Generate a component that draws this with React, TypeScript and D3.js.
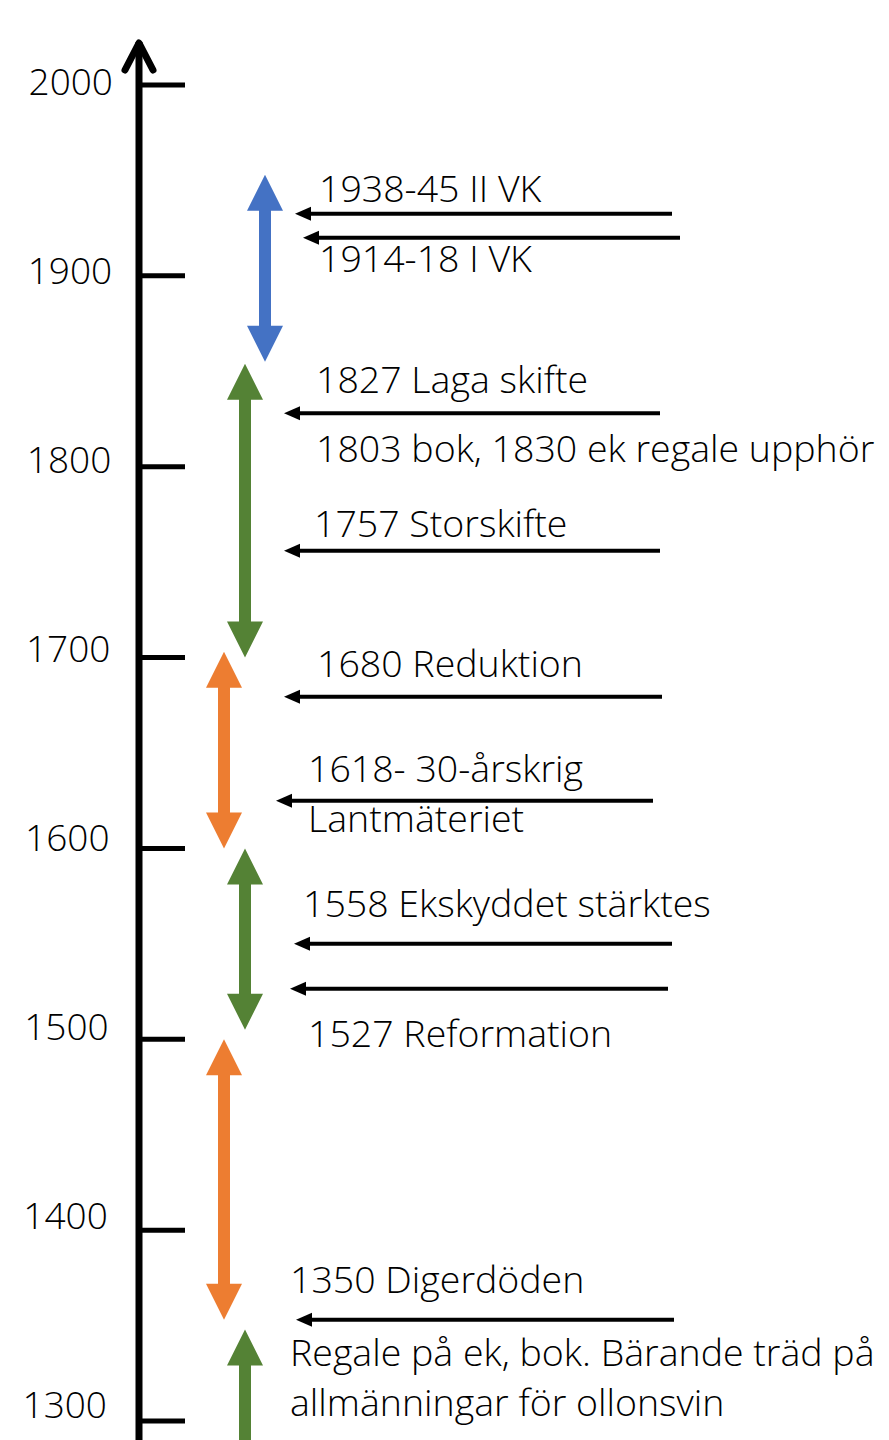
import { useEffect, useRef } from 'react'
import * as d3 from 'd3'

// axis ticks (years)
const tickYears = [2000, 1900, 1800, 1700, 1600, 1500, 1400, 1300]

// coloured periods: start year (top), end year (bottom)
const periodTop = [1953, 1854, 1703, 1600, 1500, 1348]
const periodBottom = [1855, 1700, 1600, 1505, 1353, 1200]
const periodColor = ['#4472C4', '#548235', '#ED7D31', '#548235', '#ED7D31', '#548235']
const periodShowBottomHead = [true, true, true, true, true, false]

// event pointers (year they point at)
const eventYears = [1932.5, 1920, 1828, 1756, 1679.5, 1625, 1550, 1526.5, 1353]

// text annotations (baseline year + text)
const labelYears = [1938.6, 1902, 1838.6, 1802.5, 1763, 1690, 1635, 1608.6, 1564, 1496, 1367, 1329, 1302.5]
const labelTexts = [
  '1938-45 II VK',
  '1914-18 I VK',
  '1827 Laga skifte',
  '1803 bok, 1830 ek regale upphör',
  '1757 Storskifte',
  '1680 Reduktion',
  '1618- 30-årskrig',
  'Lantmäteriet',
  '1558 Ekskyddet stärktes',
  '1527 Reformation',
  '1350 Digerdöden',
  'Regale på ek, bok. Bärande träd på',
  'allmänningar för ollonsvin',
]

// layout (px)
const periodX = [265, 245, 224, 245, 224, 245]
const eventTipX = [295, 303, 284, 284, 284, 276, 294, 290, 296]
const eventEndX = [672, 680, 660, 660, 662, 653, 672, 668, 674]
const labelX = [319, 319, 316, 316, 314, 317, 308, 308, 303, 308, 290, 290, 290]

const W = 889
const H = 1440
const FONT = '"Open Sans", "Noto Sans", sans-serif'

export default function App() {
  const ref = useRef<SVGSVGElement>(null)

  useEffect(() => {
    const svg = d3.select(ref.current)
    svg.selectAll('*').remove()

    const y = d3.scaleLinear().domain([1300, 2000]).range([1421, 85])
    // tick labels drift slightly up and left relative to their ticks
    const labelY = d3.scaleLinear().domain([1300, 2000]).range([1418, 95])
    const labelRight = d3.scaleLinear().domain([1300, 2000]).range([107, 113])
    const axisX = 139

    // main axis line + open arrow head
    svg.append('line')
      .attr('x1', axisX).attr('x2', axisX)
      .attr('y1', 42).attr('y2', H + 10)
      .attr('stroke', '#000').attr('stroke-width', 7)
    svg.append('path')
      .attr('d', `M${axisX - 14},${70} L${axisX},${43} L${axisX + 14},${70}`)
      .attr('fill', 'none').attr('stroke', '#000')
      .attr('stroke-width', 7).attr('stroke-linecap', 'round').attr('stroke-linejoin', 'round')

    // ticks + labels
    const ticks = svg.append('g')
    tickYears.forEach(t => {
      ticks.append('line')
        .attr('x1', axisX).attr('x2', 185)
        .attr('y1', y(t)).attr('y2', y(t))
        .attr('stroke', '#000').attr('stroke-width', 5)
      ticks.append('text')
        .attr('x', labelRight(t)).attr('y', labelY(t))
        .attr('text-anchor', 'end')
        .style('font-family', FONT).style('font-weight', 300)
        .style('font-size', '37px').style('fill', '#000')
        .text(t)
    })

    // coloured double arrows
    const headW = 18, headL = 36, shaftW = 6
    periodTop.forEach((top, i) => {
      const cx = periodX[i]
      const y0 = y(top)
      const y1 = y(periodBottom[i])
      const bottomHead = periodShowBottomHead[i]
      const yb = bottomHead ? y1 - headL : Math.max(y1, H + 20)
      const pts: [number, number][] = [
        [cx, y0],
        [cx + headW, y0 + headL],
        [cx + shaftW, y0 + headL],
        [cx + shaftW, yb],
        ...(bottomHead ? [[cx + headW, yb], [cx, y1], [cx - headW, yb]] as [number, number][] : []),
        [cx - shaftW, yb],
        [cx - shaftW, y0 + headL],
        [cx - headW, y0 + headL],
      ]
      svg.append('path')
        .attr('d', d3.line()(pts) + 'Z')
        .attr('fill', periodColor[i])
    })

    // event pointer arrows
    eventYears.forEach((ev, i) => {
      const yy = y(ev)
      const tip = eventTipX[i]
      svg.append('line')
        .attr('x1', tip + 10).attr('x2', eventEndX[i])
        .attr('y1', yy).attr('y2', yy)
        .attr('stroke', '#000').attr('stroke-width', 4)
      svg.append('path')
        .attr('d', `M${tip},${yy} L${tip + 16},${yy - 7} L${tip + 16},${yy + 7} Z`)
        .attr('fill', '#000')
    })

    // annotations
    labelTexts.forEach((txt, i) => {
      svg.append('text')
        .attr('x', labelX[i]).attr('y', y(labelYears[i]))
        .style('font-family', FONT).style('font-weight', 300)
        .style('font-size', '37.5px').style('fill', '#000')
        .text(txt)
    })
  }, [])

  return (
    <svg ref={ref} width={W} height={H}
      style={{ position: 'absolute', left: 0, top: 0, background: '#fff' }} />
  )
}
